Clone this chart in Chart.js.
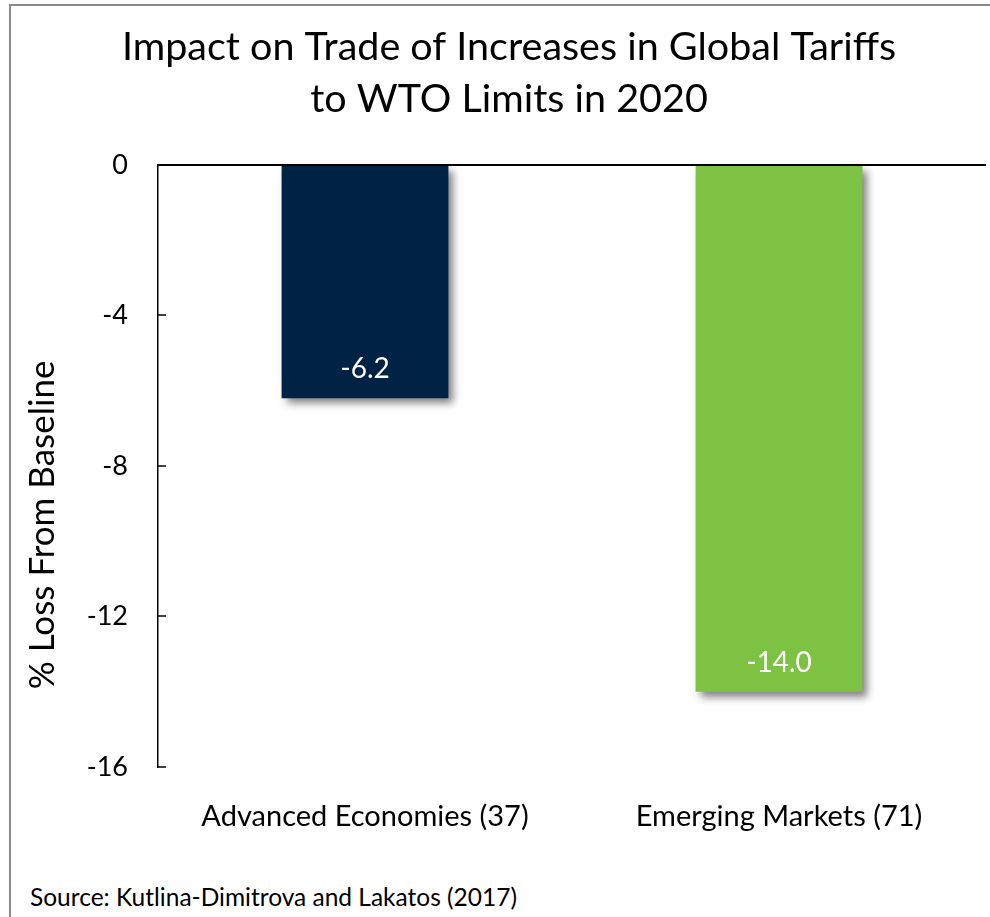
<!DOCTYPE html>
<html>
<head>
<meta charset="utf-8">
<script src="https://cdn.jsdelivr.net/npm/chart.js@4.4.1/dist/chart.umd.min.js"></script>
<style>
  html, body { margin: 0; padding: 0; background: #fff; overflow: hidden; width: 990px; height: 917px; }
  #frame { position: absolute; left: 9px; top: 4px; width: 1001px; height: 930px; border-left: 2px solid #8a8a8a; border-top: 2px solid #8a8a8a; }
  #wrap { position: absolute; left: 0; top: 0; width: 1001px; height: 870px; }
  #source { position: absolute; left: 19px; top: 876px; font-family: Lato, "Open Sans", sans-serif; font-size: 24.5px; line-height: 29px; color: #000; white-space: nowrap; }
</style>
</head>
<body>
<div id="frame">
  <div id="wrap"><canvas id="c"></canvas></div>
  <div id="source">Source: Kutlina-Dimitrova and Lakatos (2017)</div>
</div>
<script>
const categories = ["Advanced Economies (37)", "Emerging Markets (71)"];
const lossValues = [-6.2, -14.0];
const barColors = ["#002245", "#7DC242"];
const yTicks = [0, -4, -8, -12, -16];
const titleLines = ["Impact on Trade of Increases in Global Tariffs", "to WTO Limits in 2020"];
const yAxisTitle = "% Loss From Baseline";

const FONT = "Lato, 'Open Sans', sans-serif";

const shadowPlugin = {
  id: 'barShadow',
  beforeDatasetsDraw(chart) {
    const ctx = chart.ctx;
    ctx.save();
    ctx.shadowColor = 'rgba(0,0,0,0.5)';
    ctx.shadowBlur = 8;
    ctx.shadowOffsetX = 5;
    ctx.shadowOffsetY = 5;
  },
  afterDatasetsDraw(chart) {
    chart.ctx.restore();
  }
};

const labelPlugin = {
  id: 'valueLabels',
  afterDatasetsDraw(chart) {
    const ctx = chart.ctx;
    const meta = chart.getDatasetMeta(0);
    ctx.save();
    ctx.font = "28px " + FONT;
    ctx.fillStyle = "#ffffff";
    ctx.textAlign = "center";
    ctx.textBaseline = "middle";
    meta.data.forEach((bar, i) => {
      ctx.fillText(lossValues[i].toFixed(1), bar.x, bar.y - 29);
    });
    ctx.restore();
  }
};

const yTitlePlugin = {
  id: 'yTitle',
  afterDraw(chart) {
    const ctx = chart.ctx;
    const a = chart.chartArea;
    ctx.save();
    ctx.font = "35px " + FONT;
    ctx.fillStyle = "#000";
    ctx.textAlign = "center";
    ctx.textBaseline = "middle";
    ctx.translate(32, (a.top + a.bottom) / 2 + 59);
    ctx.rotate(-Math.PI / 2);
    ctx.fillText(yAxisTitle, 0, 0);
    ctx.restore();
  }
};

new Chart(document.getElementById('c'), {
  type: 'bar',
  data: {
    labels: categories,
    datasets: [{
      data: lossValues,
      backgroundColor: barColors,
      borderWidth: 0,
      barPercentage: 0.403,
      categoryPercentage: 1.0
    }]
  },
  options: {
    responsive: true,
    maintainAspectRatio: false,
    animation: false,
    devicePixelRatio: 1,
    layout: { padding: { left: 21, right: 26, top: 0, bottom: 0 } },
    plugins: {
      legend: { display: false },
      tooltip: { enabled: false },
      title: {
        display: true,
        text: titleLines,
        color: '#000',
        font: { family: FONT, size: 39.5, weight: 'normal', lineHeight: 1.316 },
        padding: { top: 15, bottom: 40 }
      }
    },
    scales: {
      x: {
        grid: { display: false },
        border: { display: false },
        ticks: { color: '#000', font: { family: FONT, size: 29 }, padding: 24, maxRotation: 0 },
        afterFit(scale) { scale.height = 109; }
      },
      y: {
        min: -16,
        max: 0,
        z: 1,
        afterBuildTicks(scale) { scale.ticks = yTicks.map(v => ({ value: v })); },
        afterFit(scale) { scale.width = 126; },
        border: { display: true, color: '#000', width: 1.5 },
        grid: {
          drawOnChartArea: true,
          drawTicks: true,
          tickLength: -8,
          tickColor: '#000',
          tickWidth: 1.5,
          color: (c) => (c.tick && c.tick.value === 0) ? '#000' : 'rgba(0,0,0,0)',
          lineWidth: (c) => (c.tick && c.tick.value === 0) ? 2 : 0
        },
        ticks: { color: '#000', font: { family: FONT, size: 27 }, padding: 38 }
      }
    }
  },
  plugins: [shadowPlugin, labelPlugin, yTitlePlugin]
});
</script>
</body>
</html>
